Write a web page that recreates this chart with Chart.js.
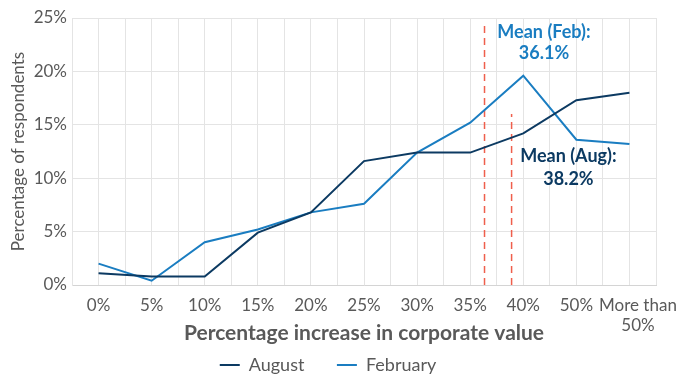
<!DOCTYPE html>
<html lang="en">
<head>
  <meta charset="UTF-8" />
  <title>Percentage increase in corporate value</title>
  <script src="https://cdn.jsdelivr.net/npm/chart.js"></script>
  <style>
    html, body { margin: 0; padding: 0; background: #fff; }
    .chart-container { position: relative; width: 682px; height: 376px; }
  </style>
</head>
<body>
  <div class="chart-container">
    <canvas id="valueChart"></canvas>
  </div>

  <script>
    // Data (percent of respondents)
    const categories = ['0%', '5%', '10%', '15%', '20%', '25%', '30%', '35%', '40%', '50%', ['More than', '50%']];
    const august = [1.1, 0.8, 0.8, 4.9, 6.8, 11.6, 12.4, 12.4, 14.2, 17.3, 18.0];
    const february = [2.0, 0.4, 4.0, 5.2, 6.8, 7.6, 12.4, 15.2, 19.6, 13.6, 13.2];
    const yTicks = [0, 5, 10, 15, 20, 25];

    // Means, and where their markers sit on the category axis
    const meanFeb = 36.1;
    const meanAug = 38.2;
    const meanFebPos = 7.27;
    const meanAugPos = 7.78;
    const meanFebTop = 24.7;
    const meanAugTop = 16.0;

    const AUG_COLOR = '#0c3a62';
    const FEB_COLOR = '#1a7dc1';
    const MEAN_COLOR = '#ef5f4c';
    const TEXT_GRAY = '#595959';
    const FONT = 'Lato, "Noto Sans", sans-serif';

    const toPoints = arr => arr.map((v, i) => ({ x: i, y: v }));

    // last label sits a little to the right in the original, so nudge it
    function xLabel(v) {
      if (!Number.isInteger(v) || categories[v] === undefined) return '';
      const lab = categories[v];
      if (Array.isArray(lab)) return lab.map(s => '\u2002\u2002' + s);
      return lab;
    }

    // mean labels drawn on top of the plot
    const meanLabels = {
      id: 'meanLabels',
      afterDatasetsDraw(chart) {
        const { ctx, scales: { x, y } } = chart;
        ctx.save();
        ctx.font = 'bold 18px ' + FONT;
        ctx.textAlign = 'center';
        ctx.textBaseline = 'middle';
        ctx.fillStyle = FEB_COLOR;
        ctx.fillText('Mean (Feb):', x.getPixelForValue(8.39), y.getPixelForValue(23.7));
        ctx.fillText(meanFeb.toFixed(1) + '%', x.getPixelForValue(8.39), y.getPixelForValue(21.7));
        ctx.fillStyle = AUG_COLOR;
        ctx.fillText('Mean (Aug):', x.getPixelForValue(8.85), y.getPixelForValue(12.06));
        ctx.fillText(meanAug.toFixed(1) + '%', x.getPixelForValue(8.85), y.getPixelForValue(9.9));
        ctx.restore();
      }
    };

    new Chart(document.getElementById('valueChart'), {
      type: 'line',
      data: {
        datasets: [
          {
            label: 'August',
            data: toPoints(august),
            borderColor: AUG_COLOR,
            backgroundColor: AUG_COLOR,
            borderWidth: 2,
            pointRadius: 0,
            tension: 0
          },
          {
            label: 'February',
            data: toPoints(february),
            borderColor: FEB_COLOR,
            backgroundColor: FEB_COLOR,
            borderWidth: 2,
            pointRadius: 0,
            tension: 0
          },
          {
            label: 'meanFeb',
            data: [{ x: meanFebPos, y: 0 }, { x: meanFebPos, y: meanFebTop }],
            borderColor: MEAN_COLOR,
            borderWidth: 1.5,
            borderDash: [7, 5],
            pointRadius: 0
          },
          {
            label: 'meanAug',
            data: [{ x: meanAugPos, y: 0 }, { x: meanAugPos, y: meanAugTop }],
            borderColor: MEAN_COLOR,
            borderWidth: 1.5,
            borderDash: [7, 5],
            pointRadius: 0
          }
        ]
      },
      options: {
        responsive: true,
        maintainAspectRatio: false,
        animation: false,
        layout: { padding: { top: 18, right: 26, left: 0, bottom: -8 } },
        scales: {
          x: {
            type: 'linear',
            min: -0.5,
            max: categories.length - 0.5,
            afterBuildTicks: s => {
              const t = [];
              for (let v = -0.5; v <= categories.length - 0.5; v += 0.5) t.push({ value: v });
              s.ticks = t;
            },
            afterFit: s => { s.height = 61; },
            grid: { color: '#e4e4e4', lineWidth: 1, drawTicks: false },
            border: { color: '#d4d4d4' },
            ticks: {
              autoSkip: false,
              maxRotation: 0,
              minRotation: 0,
              padding: 10,
              color: TEXT_GRAY,
              font: { family: FONT, size: 17 },
              callback: xLabel
            },
            title: {
              display: true,
              text: 'Percentage increase in corporate value',
              color: TEXT_GRAY,
              font: { family: FONT, size: 21, weight: 'bold' },
              padding: { top: 0, bottom: 0 }
            }
          },
          y: {
            min: 0,
            max: 25,
            afterBuildTicks: s => { s.ticks = yTicks.map(v => ({ value: v })); },
            afterFit: s => { s.width = 72; },
            grid: { color: '#e4e4e4', lineWidth: 1, drawTicks: false },
            border: { color: '#e4e4e4' },
            ticks: {
              padding: 5,
              color: TEXT_GRAY,
              font: { family: FONT, size: 17 },
              callback: v => v + '%'
            },
            title: {
              display: true,
              text: 'Percentage of respondents',
              color: TEXT_GRAY,
              font: { family: FONT, size: 17 },
              padding: { top: 8, bottom: 2 }
            }
          }
        },
        plugins: {
          legend: {
            position: 'bottom',
            labels: {
              boxWidth: 20,
              boxHeight: 2,
              padding: 10,
              color: TEXT_GRAY,
              font: { family: FONT, size: 18 },
              filter: item => item.datasetIndex < 2,
              generateLabels: chart => {
                const items = Chart.defaults.plugins.legend.labels.generateLabels(chart);
                items.forEach(it => {
                  it.fillStyle = it.strokeStyle;
                  it.lineWidth = 0;
                  if (it.datasetIndex === 0) it.text = 'August\u2003\u2002';
                });
                return items;
              }
            }
          },
          tooltip: { enabled: false }
        }
      },
      plugins: [meanLabels]
    });
  </script>
</body>
</html>
